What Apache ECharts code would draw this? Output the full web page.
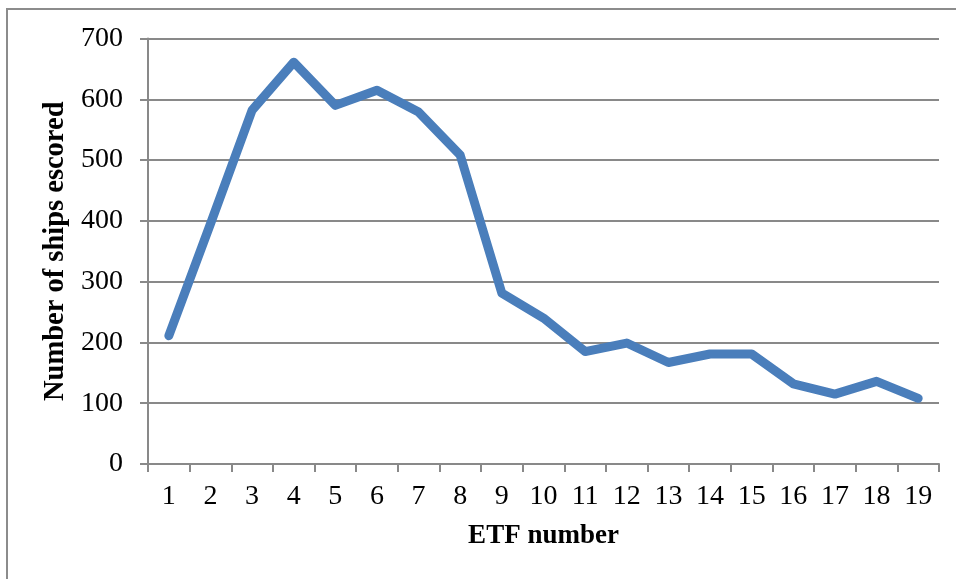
<!DOCTYPE html>
<html>
<head>
<meta charset="utf-8">
<script src="https://cdn.jsdelivr.net/npm/echarts@6/dist/echarts.min.js"></script>
<style>
html,body{margin:0;padding:0;background:#fff;}
#chart{width:956px;height:579px;}
</style>
</head>
<body>
<div id="chart"></div>
<script>
const categories = ['1','2','3','4','5','6','7','8','9','10','11','12','13','14','15','16','17','18','19'];
const shipsEscorted = [211, 395, 582, 661, 590, 615, 579, 508, 281, 240, 185, 199, 167, 181, 181, 132, 115, 136, 108];
const yTicks = { min: 0, max: 700, interval: 100 };
const xAxisTitle = 'ETF number';
const yAxisTitle = 'Number of ships escored';

const chart = echarts.init(document.getElementById('chart'), null, { renderer: 'canvas' });
const font = 'Liberation Serif';
chart.setOption({
  animation: false,
  backgroundColor: '#ffffff',
  graphic: [{
    type: 'rect',
    shape: { x: 7, y: 9, width: 1000, height: 600 },
    style: { fill: 'none', stroke: '#8c8c8c', lineWidth: 2 },
    silent: true
  }],
  grid: { left: 148, right: 17, top: 38.5, bottom: 115, containLabel: false },
  xAxis: {
    type: 'category',
    data: categories,
    boundaryGap: true,
    name: xAxisTitle,
    nameLocation: 'middle',
    nameGap: 59,
    nameTextStyle: { fontFamily: font, fontWeight: 'bold', fontSize: 27, color: '#000' },
    axisLine: { lineStyle: { color: '#898989', width: 2 } },
    axisTick: { show: true, alignWithLabel: false, interval: 0, length: 8, lineStyle: { color: '#898989', width: 2 } },
    axisLabel: { interval: 0, margin: 19, fontFamily: font, fontSize: 28, color: '#000' },
    splitLine: { show: false }
  },
  yAxis: {
    type: 'value',
    min: yTicks.min,
    max: yTicks.max,
    interval: yTicks.interval,
    name: yAxisTitle,
    nameLocation: 'middle',
    nameGap: 77,
    nameRotate: 90,
    nameTextStyle: { fontFamily: font, fontWeight: 'bold', fontSize: 28.5, color: '#000' },
    axisLine: { show: true, lineStyle: { color: '#898989', width: 2 } },
    axisTick: { show: true, length: 8, lineStyle: { color: '#898989', width: 2 } },
    axisLabel: { margin: 25, fontFamily: font, fontSize: 28, color: '#000' },
    splitLine: { show: true, lineStyle: { color: '#898989', width: 2 } }
  },
  series: [{
    type: 'line',
    data: shipsEscorted,
    symbol: 'none',
    lineStyle: { color: '#4a7ebb', width: 9, cap: 'round', join: 'round' },
    itemStyle: { color: '#4a7ebb' }
  }]
});
</script>
</body>
</html>
